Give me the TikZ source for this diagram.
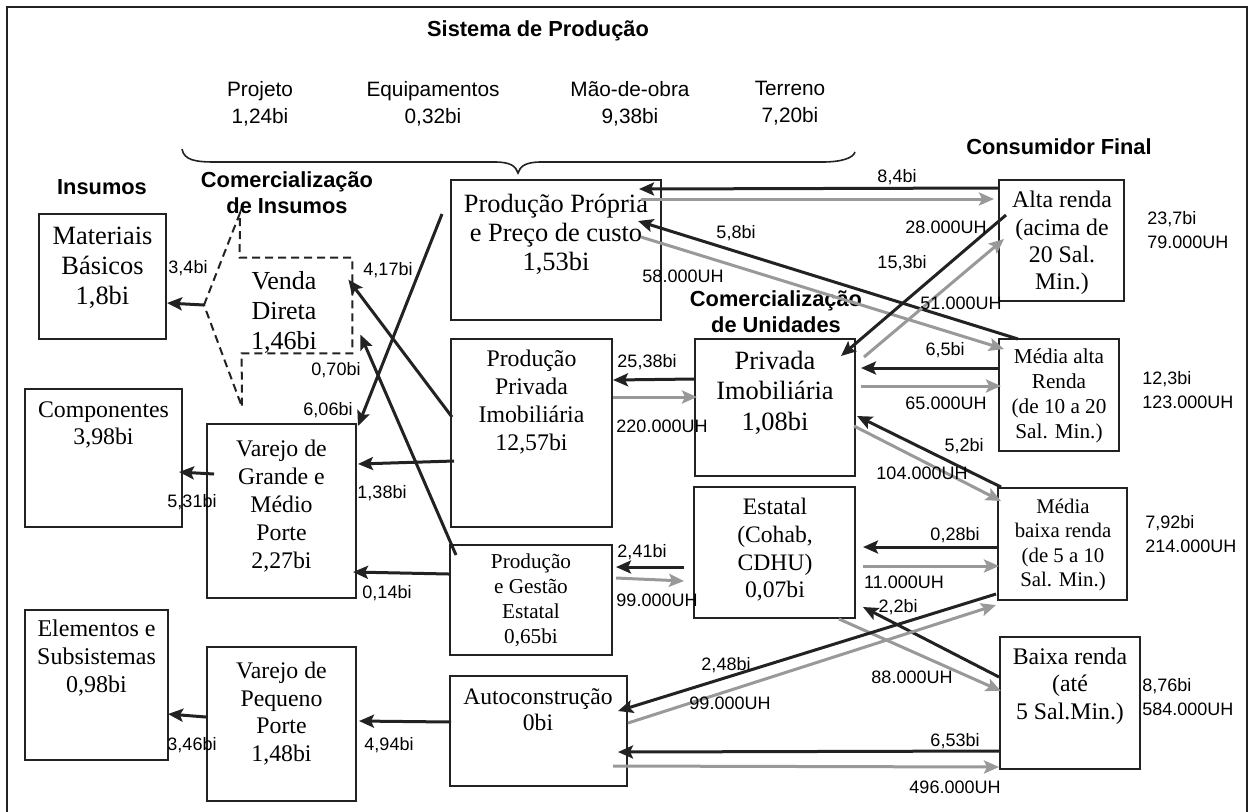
\documentclass[tikz,border=0pt]{standalone}
\usepackage{fontspec}
\setmainfont{Liberation Serif}
\setsansfont{Liberation Sans}
\usetikzlibrary{arrows.meta,calc,fit}
\definecolor{ink}{HTML}{222222}
\definecolor{ash}{HTML}{999999}
\begin{document}
\begin{tikzpicture}[x=0.5pt,y=-0.5pt,
  box/.style={draw=ink, line width=1pt, inner sep=0pt},
  tx/.style 2 args={align=center, inner sep=0pt, font=\fontsize{#1}{#2}\selectfont},
  lab/.style={font=\sffamily\fontsize{9}{10.8}\selectfont, inner sep=0pt},
  side/.style={font=\sffamily\fontsize{9}{12}\selectfont, inner sep=0pt, align=left, anchor=west},
  top/.style={font=\sffamily\fontsize{10.4}{13.5}\selectfont, inner sep=0pt, align=center},
  hd/.style={font=\sffamily\bfseries\fontsize{10.9}{13}\selectfont, inner sep=0pt, align=center},
  blk/.style={draw=ink, line width=1.5pt, -{Stealth[length=7.5pt,width=6.5pt,inset=1.5pt]}},
  gry/.style={draw=ash, line width=1.5pt, -{Stealth[length=7.5pt,width=6.5pt,inset=1.5pt]}},
  dsh/.style={draw=ink, line width=1pt, dash pattern=on 4pt off 2.5pt}
]
\useasboundingbox (0,0) rectangle (1251,811);
% outer frame
\draw[ink, line width=1.2pt] (7,7) rectangle (1247,830);

% headings
\node[hd] (hsys) at (538,31) {Sistema de Produção};
\node[top] (hproj) at (260,103.5) {Projeto\\1,24bi};
\node[top] (hequip) at (433,103.5) {Equipamentos\\0,32bi};
\node[top] (hmao) at (630,103.5) {Mão-de-obra\\9,38bi};
\node[top] (hterr) at (790,103.5) {Terreno\\7,20bi};
\node[hd] (hins) at (102,187) {Insumos};
\node[hd] (hcomi) at (287,193) {Comercialização\\de Insumos};
\node[hd] (hcons) at (1059,147) {Consumidor Final};
\node[hd] (hcomu) at (776,312) {Comercialização\\de Unidades};

% brace over the production system
\draw[ink, line width=0.8pt] (182,149) .. controls (184,160) and (195,162) .. (215,162)
  -- (495,162) .. controls (510,162) and (516,166) .. (518,173)
  .. controls (520,166) and (526,162) .. (541,162)
  -- (822,162) .. controls (842,162) and (853,158) .. (855,152);

% boxes
\node[box, fit={(39,214) (166,339)}] (mat) {};
\node[box, fit={(25,389) (182,527)}] (comp) {};
\node[box, fit={(25,610) (168,760)}] (elem) {};
\node[box, fit={(207,424) (356,598)}] (vgm) {};
\node[box, fit={(207,647) (356,801)}] (vpp) {};
\node[box, fit={(451,180) (661,320)}] (prop) {};
\node[box, fit={(451,339) (612,527)}] (ppi) {};
\node[box, fit={(450,545) (612,655)}] (pge) {};
\node[box, fit={(450,676) (627,786)}] (auto) {};
\node[box, fit={(695,339) (855,476)}] (priv) {};
\node[box, fit={(694,487) (855,618)}] (est) {};
\node[box, fit={(999,180) (1124,301)}] (alta) {};
\node[box, fit={(999,339) (1119,451)}] (malta) {};
\node[box, fit={(998,488) (1127,600)}] (mbaixa) {};
\node[box, fit={(1000,637) (1140,769)}] (baixa) {};

% direct sale (open dashed outline)
\node[inner sep=0pt, fit={(240,258) (352,353)}] (venda) {};
\coordinate (fork) at (204,305);
\draw[dsh] (fork) -- (240,213) -- (venda.north west) -- (venda.north east)
  -- (venda.south east) -- ($(venda.south west)+(2,0)$) -- (242,407) -- cycle;

% box texts
\node[tx={13.2}{15}] (mat-t) at (102.5,268) {Materiais\\Básicos\\1,8bi};
\node[tx={13}{15}] (venda-t) at (284,312) {Venda\\Direta\\1,46bi};
\node[tx={11.9}{13.5}] (comp-t) at (103.5,424.5) {Componentes\\3,98bi};
\node[tx={11.9}{14}] (vgm-t) at (281.5,506) {Varejo de\\Grande e\\Médio\\Porte\\2,27bi};
\node[tx={12}{14}] (elem-t) at (96.5,658) {Elementos e\\Subsistemas\\0,98bi};
\node[tx={11.9}{13.9}] (vpp-t) at (281.5,713.5) {Varejo de\\Pequeno\\Porte\\1,48bi};
\node[tx={13.2}{14.5}] (prop-t) at (556,234) {Produção Própria\\e Preço de custo\\1,53bi};
\node[tx={11.9}{13.9}] (ppi-t) at (531.5,402) {Produção\\Privada\\Imobiliária\\12,57bi};
\node[tx={10.6}{12.5}] (pge-t) at (531,600.5) {Produção\\e Gestão\\Estatal\\0,65bi};
\node[tx={11.8}{13}] (auto-t) at (538,710) {Autoconstrução\\0bi};
\node[tx={13.2}{15.25}] (priv-t) at (775,392.5) {Privada\\Imobiliária\\1,08bi};
\node[tx={11.8}{13.8}] (est-t) at (775,550) {Estatal\\(Cohab,\\CDHU)\\0,07bi};
\node[tx={11.9}{13.7}] (alta-t) at (1062,243) {Alta renda\\(acima de\\20 Sal.\\Min.)};
\node[tx={10.6}{12.5}] (malta-t) at (1059,396) {Média alta\\Renda\\(de 10 a 20\\Sal. Min.)};
\node[tx={10.4}{12.3}] (mbaixa-t) at (1063,545) {Média\\baixa renda\\(de 5 a 10\\Sal. Min.)};
\node[tx={11.9}{13.8}] (baixa-t) at (1070,686) {Baixa renda\\(até\\5 Sal.Min.)};

% totals per consumer class
\node[side] (salta) at (1147,230) {23,7bi\\79.000UH};
\node[side] (smalta) at (1142,390) {12,3bi\\123.000UH};
\node[side] (smbaixa) at (1145,534) {7,92bi\\214.000UH};
\node[side] (sbaixa) at (1142,697.5) {8,76bi\\584.000UH};

% flows towards inputs
\draw[blk] (fork) -- ($(mat.north east)+(0,90)$);
\draw[blk] ($(vgm.north west)+(8,51)$) -- ($(comp.north east)+(-4,84)$);
\draw[blk] ($(vpp.north west)+(0,71)$) -- ($(elem.north east)+(-1,105)$);
\draw[blk] ($(auto.north west)+(2,47)$) -- ($(vpp.north east)+(2,75)$);
\draw[blk] ($(pge.north west)+(0,30)$) -- ($(vgm.north east)+(-4,149)$);
\draw[blk] ($(ppi.north west)+(4,123)$) -- ($(vgm.north east)+(1,41)$);
\draw[blk] ($(prop.north west)+(-8,35)$) -- ($(vgm.north east)+(1,3)$);
\draw[blk] ($(ppi.north west)+(2,79)$) -- ($(venda.north east)+(-4,22)$);
\draw[blk] ($(pge.north west)+(7,11)$) -- ($(venda.north east)+(8,77)$);

\node[lab] (l1) at (188,268) {3,4bi};
\node[lab] (l2) at (192,502) {5,31bi};
\node[lab] (l3) at (192,745) {3,46bi};
\node[lab] (l4) at (389,745) {4,94bi};
\node[lab] (l5) at (387,593) {0,14bi};
\node[lab] (l6) at (382,493) {1,38bi};
\node[lab] (l7) at (328,410) {6,06bi};
\node[lab] (l8) at (388,270) {4,17bi};
\node[lab] (l9) at (336,370) {0,70bi};

% flows between production, sale and consumers
\draw[blk] ($(alta.north west)+(0,9)$) -- ($(prop.north east)+(-23,10)$);
\draw[gry] ($(prop.north east)+(-21,20)$) -- ($(alta.north west)+(-4,20)$);
\draw[blk] ($(malta.north west)+(20,1)$) -- ($(prop.north east)+(-24,42)$);
\draw[gry] ($(prop.north east)+(-21,58)$) -- ($(malta.north west)+(6,11)$);
\draw[blk] ($(alta.north west)+(8,36)$) -- ($(priv.north east)+(-15,18)$);
\draw[gry] ($(priv.north east)+(8,19)$) -- ($(alta.north west)+(6,60)$);
\draw[blk] ($(malta.north west)+(0,30)$) -- ($(priv.north east)+(5,30)$);
\draw[gry] ($(priv.north east)+(5,48)$) -- ($(malta.north west)+(3,48)$);
\draw[blk] ($(mbaixa.north west)+(4,0)$) -- ($(priv.north east)+(1,78)$);
\draw[gry] ($(priv.north east)+(-2,88)$) -- ($(mbaixa.north west)+(4,14)$);
\draw[blk] ($(priv.north west)+(0,41)$) -- ($(ppi.north east)+(0,42)$);
\draw[gry] ($(ppi.north east)+(0,59)$) -- ($(priv.north west)+(3,59)$);
\draw[blk] ($(est.north west)+(-9,81)$) -- ($(pge.north east)+(3,23)$);
\draw[gry] ($(pge.north east)+(3,34)$) -- ($(est.north west)+(-9,95)$);
\draw[blk] ($(mbaixa.north west)+(0,60)$) -- ($(est.north east)+(7,61)$);
\draw[gry] ($(est.north east)+(7,80)$) -- ($(mbaixa.north west)+(2,79)$);
\draw[blk] ($(baixa.north west)+(0,41)$) -- ($(est.north east)+(7,121)$);
\draw[gry] ($(est.south east)+(-17,0)$) -- ($(baixa.north west)+(2,55)$);
\draw[blk] ($(mbaixa.south west)+(-1,-7)$) -- ($(auto.north east)+(-10,36)$);
\draw[gry] ($(auto.north east)+(0,48)$) -- ($(mbaixa.south west)+(-1,4)$);
\draw[blk] ($(baixa.north west)+(0,115)$) -- ($(auto.north east)+(-10,77)$);
\draw[gry] ($(auto.north east)+(-15,91)$) -- ($(baixa.north west)+(0,131)$);

\node[lab] (m1) at (897,177) {8,4bi};
\node[lab] (m2) at (946,227) {28.000UH};
\node[lab] (m3) at (736,233) {5,8bi};
\node[lab] (m4) at (683,276) {58.000UH};
\node[lab] (m5) at (902,263) {15,3bi};
\node[lab] (m6) at (961,303) {51.000UH};
\node[lab] (m7) at (945,350) {6,5bi};
\node[lab] (m8) at (946,403) {65.000UH};
\node[lab] (m9) at (964,446) {5,2bi};
\node[lab] (m10) at (922,473) {104.000UH};
\node[lab] (m11) at (647,362) {25,38bi};
\node[lab] (m12) at (662,426) {220.000UH};
\node[lab] (m13) at (642,552) {2,41bi};
\node[lab] (m14) at (657,600) {99.000UH};
\node[lab] (m15) at (955,535) {0,28bi};
\node[lab] (m16) at (904,582) {11.000UH};
\node[lab] (m17) at (898,607) {2,2bi};
\node[lab] (m18) at (912,677) {88.000UH};
\node[lab] (m19) at (726,665) {2,48bi};
\node[lab] (m20) at (730,703) {99.000UH};
\node[lab] (m21) at (955,741) {6,53bi};
\node[lab] (m22) at (955,787) {496.000UH};
\end{tikzpicture}
\end{document}
